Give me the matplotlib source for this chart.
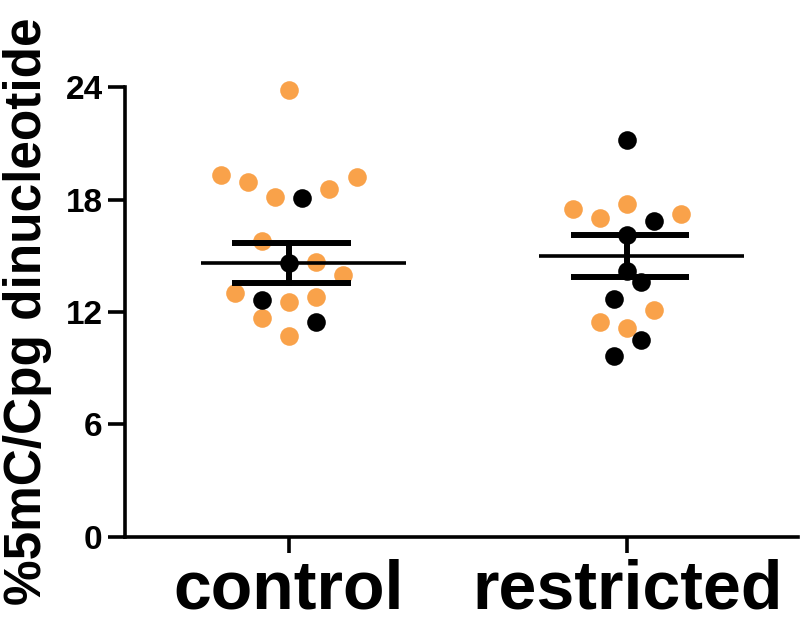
import numpy as np
import matplotlib.pyplot as plt

plt.rcParams['font.family'] = ['Liberation Sans', 'DejaVu Sans']
plt.rcParams['font.weight'] = 'bold'

groups = ["control", "restricted"]

# values, with beeswarm slot (in half-dot steps) and colour
control_y = [23.84, 19.29, 18.93, 18.15, 18.08, 18.58, 19.22, 15.79, 14.60,
             14.68, 13.97, 13.03, 12.64, 12.52, 12.82, 11.70, 11.45, 10.74]
control_slot = [0, -5, -3, -1, 1, 3, 5, -2, 0, 2, 4, -4, -2, 0, 2, -2, 2, 0]
control_black = [0, 0, 0, 0, 1, 0, 0, 0, 1, 0, 0, 0, 1, 0, 0, 0, 1, 0]

restricted_y = [21.17, 17.49, 17.01, 17.74, 16.87, 17.21, 16.12, 14.19,
                13.62, 12.68, 12.11, 11.45, 11.13, 10.51, 9.65]
restricted_slot = [0, -4, -2, 0, 2, 4, 0, 0, 1, -1, 2, -2, 0, 1, -1]
restricted_black = [1, 0, 0, 0, 1, 0, 1, 1, 1, 1, 0, 0, 0, 1, 1]

means = [14.60, 15.00]
sem_hi = [15.66, 16.12]
sem_lo = [13.53, 13.88]

orange = '#F9A24A'
slot_w = 0.04

fig = plt.figure(figsize=(8, 6.22), dpi=100)
ax = fig.add_axes([0.156, 0.1367, 0.8419, 0.7234])

for i, (ys, slots, blk) in enumerate([(control_y, control_slot, control_black),
                                      (restricted_y, restricted_slot, restricted_black)]):
    ys = np.array(ys)
    xs = i + np.array(slots) * slot_w
    blk = np.array(blk, dtype=bool)
    ax.scatter(xs[~blk], ys[~blk], s=180, color=orange, linewidths=0, zorder=2, clip_on=False)
    ax.scatter(xs[blk], ys[blk], s=180, color='black', linewidths=0, zorder=2, clip_on=False)

    ax.plot([i - 0.26, i + 0.345], [means[i], means[i]], color='black', lw=2.6, zorder=3,
            solid_capstyle='butt')
    for v in (sem_hi[i], sem_lo[i]):
        ax.plot([i - 0.167, i + 0.183], [v, v], color='black', lw=4.3, zorder=3,
                solid_capstyle='butt')
    ax.plot([i, i], [sem_lo[i], sem_hi[i]], color='black', lw=4.3, zorder=3)

ax.set_xlim(-0.485, 1.506)
ax.set_ylim(0, 24)
ax.set_yticks([0, 6, 12, 18, 24])
ax.set_xticks([0, 1])
ax.set_xticklabels(groups, fontsize=49, fontweight='bold')
ax.tick_params(axis='y', labelsize=24, length=12, width=2.6, pad=4)
ax.tick_params(axis='x', length=11.5, width=2.6, pad=4)
for lab in ax.get_yticklabels():
    lab.set_fontweight('bold')

ax.spines['top'].set_visible(False)
ax.spines['right'].set_visible(False)
ax.spines['left'].set_linewidth(2.6)
ax.spines['bottom'].set_linewidth(2.6)

fig.text(0.034, 0.5, "%5mC/Cpg dinucleotide", rotation=90, ha='center', va='center',
         fontsize=37, fontweight='bold')

fig.savefig("out.png", dpi=100)
